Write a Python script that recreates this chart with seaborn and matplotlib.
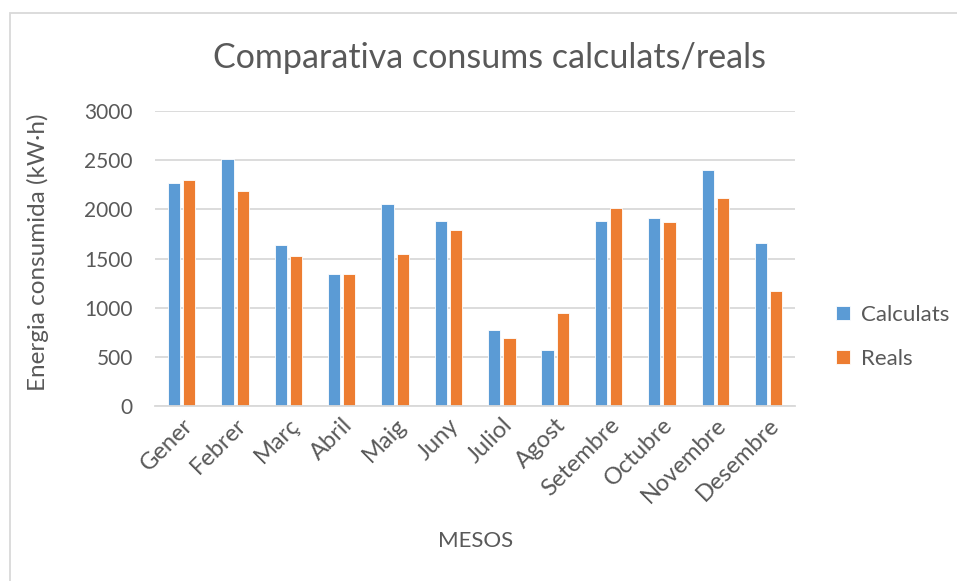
import matplotlib
matplotlib.use("Agg")
import matplotlib.pyplot as plt
from matplotlib.patches import Rectangle
import seaborn as sns
import pandas as pd

months = ["Gener", "Febrer", "Març", "Abril", "Maig", "Juny", "Juliol",
          "Agost", "Setembre", "Octubre", "Novembre", "Desembre"]
calculats = [2270, 2510, 1640, 1340, 2050, 1880, 770, 575, 1880, 1910, 2400, 1655]
reals = [2300, 2190, 1525, 1345, 1550, 1795, 695, 950, 2015, 1870, 2120, 1170]
series_names = ["Calculats", "Reals"]
yticks = [0, 500, 1000, 1500, 2000, 2500, 3000]

df = pd.DataFrame({
    "Mes": months * 2,
    "Energia": calculats + reals,
    "Serie": [series_names[0]] * len(months) + [series_names[1]] * len(months),
})

sns.set_theme(style="white")
plt.rcParams["font.family"] = ["Lato", "DejaVu Sans"]
text_color = "#595959"
grid_color = "#D9D9D9"

fig = plt.figure(figsize=(9.57, 5.81), dpi=100)
ax = fig.add_axes([0.162, 0.301, 0.669, 0.508])

sns.barplot(data=df, x="Mes", y="Energia", hue="Serie", order=months,
            hue_order=series_names, palette=["#5B9BD5", "#ED7D31"],
            width=0.57, gap=0.2, edgecolor="white", linewidth=0.6,
            saturation=1, ax=ax, legend=True)

ax.set_ylim(0, 3000)
ax.set_yticks(yticks)
ax.set_yticklabels([str(v) for v in yticks], color=text_color, fontsize=15)
ax.yaxis.grid(True, color=grid_color, linewidth=1.3)
ax.set_axisbelow(True)
for side in ["top", "right", "left"]:
    ax.spines[side].set_visible(False)
ax.spines["bottom"].set_color(grid_color)
ax.spines["bottom"].set_linewidth(1.3)
ax.tick_params(axis="y", length=0, pad=16)
ax.set_xlim(-0.5, len(months) - 0.5)
for lab in ax.get_xticklabels():
    lab.set_rotation(45)
    lab.set_ha("right")
    lab.set_rotation_mode("anchor")
    lab.set_color(text_color)
    lab.set_fontsize(17)
ax.tick_params(axis="x", length=0, pad=6)
ax.set_xlabel("")
ax.set_ylabel("")

fig.text(0.512, 0.90, "Comparativa consums calculats/reals", ha="center",
         va="center", fontsize=24.5, color=text_color)
fig.text(0.497, 0.069, "MESOS", ha="center", va="center", fontsize=16,
         color=text_color)
fig.text(0.040, 0.565, "Energia consumida (kW·h)", ha="center", va="center",
         rotation=90, fontsize=17.5, color=text_color)

leg = ax.legend(loc="center left", bbox_to_anchor=(1.04, 0.235), frameon=False,
                handlelength=0.6, handleheight=0.6, handletextpad=0.5,
                labelspacing=1.1, fontsize=16, borderaxespad=0.3)
for t in leg.get_texts():
    t.set_color(text_color)

# chart frame
fig.patches.append(Rectangle((10 / 957, -0.05), 1.1, 1 - 13 / 581 + 0.05,
                             transform=fig.transFigure, fill=False,
                             edgecolor=grid_color, linewidth=1.3))

fig.savefig("out.png", dpi=100)
